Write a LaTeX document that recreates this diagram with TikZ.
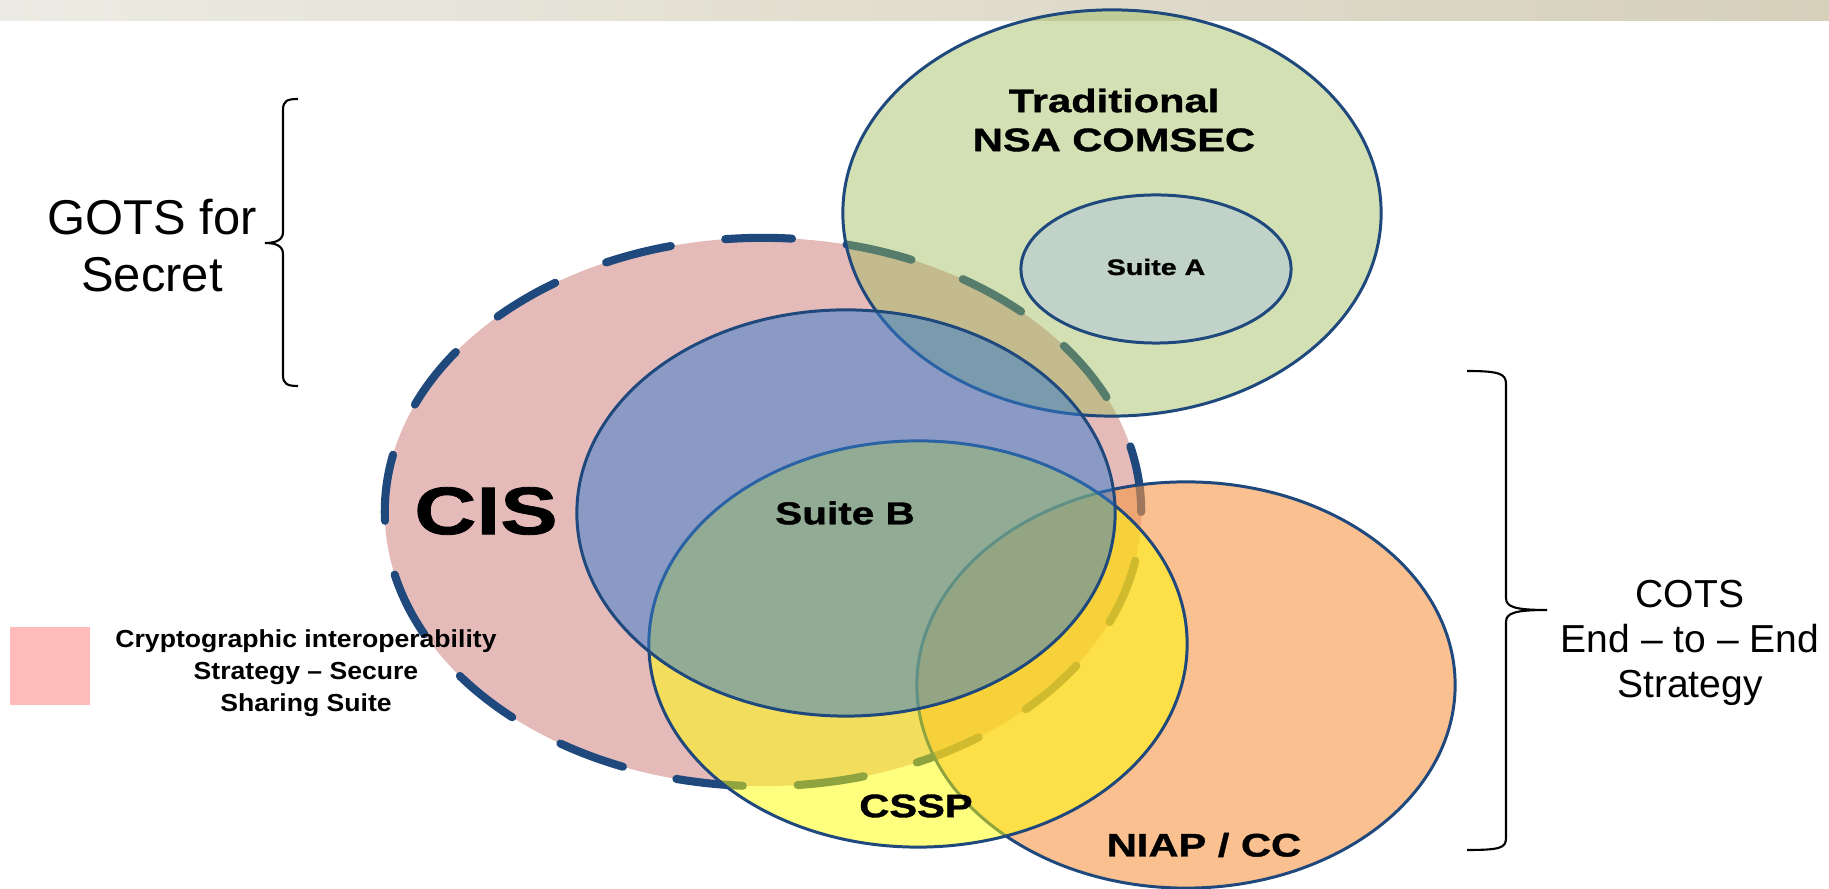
\documentclass[tikz,border=0pt]{standalone}
\usepackage{fontspec}
\setmainfont{Liberation Sans}
\newfontfamily\labelfont[FakeStretch=1.28,FakeBold=1.2]{Liberation Sans Bold}
\newfontfamily\legendfont[FakeStretch=1.08]{Liberation Sans Bold}
\usetikzlibrary{shapes.geometric,positioning}

\definecolor{cisfill}{HTML}{E5BBBA}
\definecolor{rimblue}{HTML}{1F497D}
\definecolor{comsecgreen}{HTML}{9BBB59}
\definecolor{suiteafill}{HTML}{C1D3C8}
\definecolor{suitebblue}{HTML}{337BCE}
\definecolor{niaporange}{HTML}{F79646}
\definecolor{csspyellow}{HTML}{FFFF00}
\definecolor{legendpink}{HTML}{FFBABA}
\definecolor{barleft}{HTML}{ECEBE3}
\definecolor{barright}{HTML}{D6D0BB}

\begin{document}
\begin{tikzpicture}[x=0.01cm, y=-0.01cm,
    bigset/.style={ellipse, draw=rimblue, line width=0.85pt, inner sep=0pt,
      minimum width=5.38cm, minimum height=4.06cm, fill opacity=0.5},
    setname/.style={font=\fontsize{9.25pt}{11.1pt}\selectfont\labelfont, align=center, inner sep=0pt}]
  \useasboundingbox (0,0) rectangle (1829,889);

  % header strip
  \shade[left color=barleft, right color=barright] (0,0) rectangle (1829,21);

  % CIS (dashed outline)
  \node[ellipse, fill=cisfill, draw=rimblue, line width=2.3pt, line cap=round,
    dash pattern=on 19pt off 15.6pt, inner sep=0pt,
    minimum width=7.56cm, minimum height=5.48cm] (cis) at (763,512) {};

  % Traditional NSA COMSEC and Suite A
  \node[bigset, fill=comsecgreen, fill opacity=0.45] (comsec) at (1112,213) {};
  \node[ellipse, draw=rimblue, line width=0.85pt, fill=suiteafill, inner sep=0pt,
    minimum width=2.7cm, minimum height=1.48cm] (suitea) at (1156,269) {};

  % NIAP / CC, CSSP, Suite B
  \node[bigset, fill=niaporange, fill opacity=0.6] (niap) at (1186,685) {};
  \node[bigset, fill=csspyellow] (cssp) at (918,644) {};
  \node[bigset, fill=suitebblue] (suiteb) at (846,513) {};

  % set names
  \node[setname] (comsectext) at (1114,120) {Traditional\\NSA COMSEC};
  \node[setname, font=\fontsize{6.35pt}{7.6pt}\selectfont\labelfont] (suiteatext) at (1156,267) {Suite A};
  \node[setname, font=\fontsize{19.1pt}{22pt}\selectfont\labelfont] (cistext) at (486,511) {CIS};
  \node[setname, font=\fontsize{9pt}{11pt}\selectfont\labelfont] (suitebtext) at (845,513) {Suite B};
  \node[setname] (cssptext) at (916,806) {CSSP};
  \node[setname] (niaptext) at (1204,845) {NIAP / CC};

  % braces
  \draw[line width=0.6pt] (298,99) .. controls (287,99) and (283,101) .. (283,110)
    -- (283,232) .. controls (283,240) and (276,243) .. (265,243)
    .. controls (276,243) and (283,246) .. (283,254)
    -- (283,375) .. controls (283,384) and (287,386) .. (298,386);
  \draw[line width=0.6pt] (1467,371) .. controls (1500,371) and (1506,374) .. (1506,384)
    -- (1506,598) .. controls (1506,607) and (1515,610) .. (1547,610)
    .. controls (1515,610) and (1506,613) .. (1506,622)
    -- (1506,838) .. controls (1506,848) and (1500,850) .. (1467,850);

  \node[align=center, inner sep=0pt, font=\fontsize{13.9pt}{16.2pt}\selectfont] (gots) at (152,246) {GOTS for\\Secret};
  \node[align=center, inner sep=0pt, font=\fontsize{11.1pt}{12.8pt}\selectfont] (cots) at (1690,643) {COTS\\End – to – End\\Strategy};

  % legend
  \node[fill=legendpink, inner sep=0pt, minimum width=0.8cm, minimum height=0.78cm] (legendbox) at (50,666) {};
  \node[align=center, inner sep=0pt, font=\fontsize{7pt}{9.1pt}\selectfont\legendfont] (legendtext) at (306,673)
    {Cryptographic interoperability\\Strategy – Secure\\Sharing Suite};
\end{tikzpicture}
\end{document}
